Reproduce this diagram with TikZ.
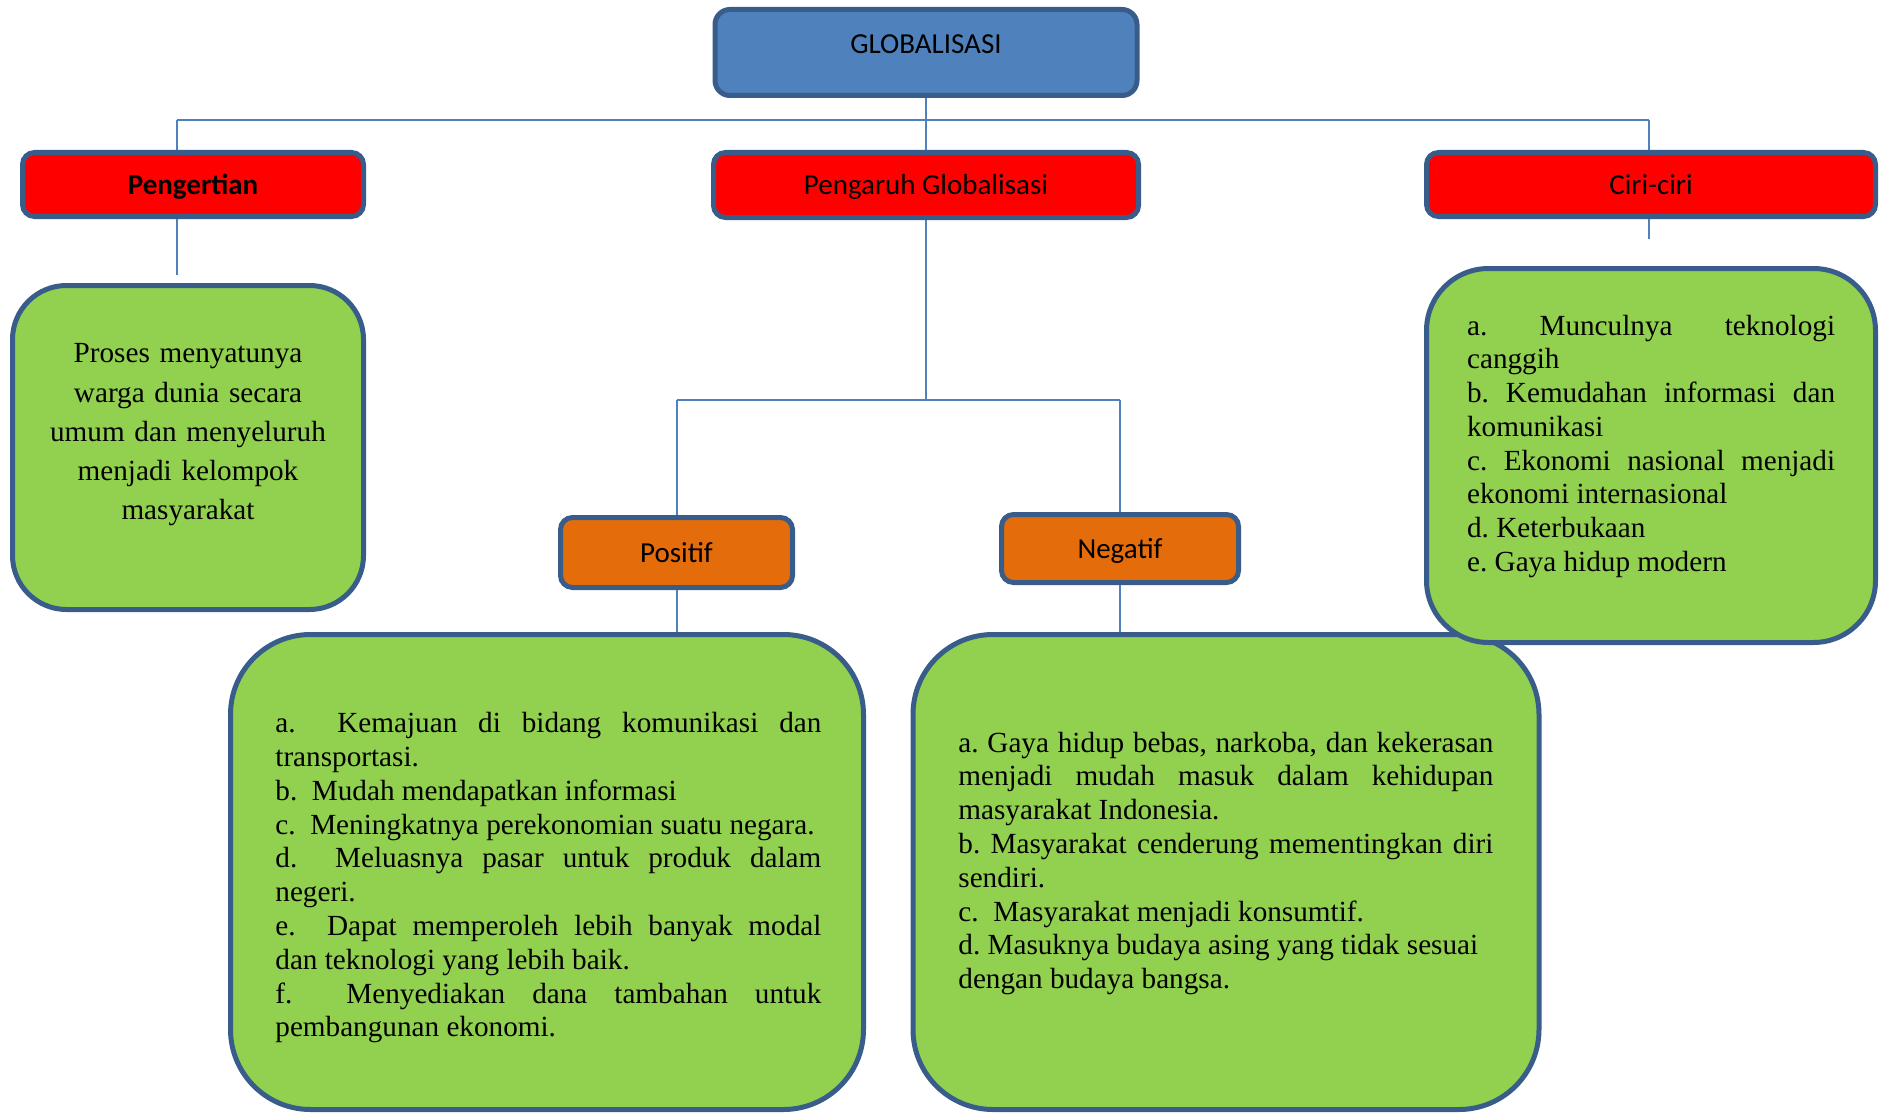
\documentclass[tikz,border=0pt]{standalone}
\usepackage{fontspec}
\setmainfont{Liberation Serif}
\newfontfamily\calibri{Carlito}
\usetikzlibrary{positioning}
\definecolor{globblue}{RGB}{79,129,189}
\definecolor{edgeblue}{RGB}{56,93,138}
\definecolor{headred}{RGB}{255,0,0}
\definecolor{suborange}{RGB}{228,108,10}
\definecolor{notegreen}{RGB}{146,208,80}
\frenchspacing
\tikzset{
  % Kotak judul
  headbox/.style   = {draw=edgeblue, line width=2.5pt, rounded corners=6pt, inner sep=0pt,
                      text height=11.5pt, text depth=2pt, font=\calibri\fontsize{14.5}{17}\selectfont},
  rootbox/.style   = {headbox, fill=globblue, rounded corners=7.5pt},
  redbox/.style    = {headbox, fill=headred},
  orangebox/.style = {headbox, fill=suborange},
  % Kotak isi
  notebox/.style   = {draw=edgeblue, line width=2.5pt, fill=notegreen, inner sep=0pt},
  notetext/.style  = {inner sep=0pt, align=justify, font=\fontsize{14.6}{16.9}\selectfont},
  % Garis penghubung
  link/.style      = {draw=globblue, line width=1pt},
}
\begin{document}
\begin{tikzpicture}[x=0.5pt, y=-0.5pt]
  \useasboundingbox (0,0) rectangle (1886,1113);
  % Judul
  \node[rootbox, minimum width=211pt, minimum height=43pt,
        text height=22.25pt, text depth=20.75pt] (glob) at (926,52.5) {GLOBALISASI};
  \node[redbox, minimum width=170.5pt, minimum height=32pt] (pengertian) at (193,184.5) {\bfseries Pengertian};
  \node[redbox, minimum width=212.5pt, minimum height=32.5pt] (pengaruh) at (926,185) {Pengaruh Globalisasi};
  \node[redbox, minimum width=224.5pt, minimum height=32pt] (ciri) at (1651,184.5) {Ciri-ciri};
  \node[orangebox, minimum width=116pt, minimum height=35pt] (positif) at (676.5,552.5) {Positif};
  \node[orangebox, minimum width=118.5pt, minimum height=34pt] (negatif) at (1120,548.5) {Negatif};
  % Kotak hijau
  \node[notebox, minimum width=175.5pt, minimum height=162pt, rounded corners=27pt] (defnote) at (188,447.5) {};
  \node[notebox, minimum width=316.5pt, minimum height=237.5pt, rounded corners=40pt] (posnote) at (547,872) {};
  \node[notebox, minimum width=313pt, minimum height=237.5pt, rounded corners=40pt] (negnote) at (1226,872) {};
  \node[notebox, minimum width=224.5pt, minimum height=187pt, rounded corners=31pt] (cirinote) at (1651,455.5) {};
  % Isi teks
  \node[notetext, align=center, text width=165pt, anchor=base,
        font=\fontsize{14.6}{19.65}\selectfont] (deftext) at (188,362.7)
    {Proses menyatunya\\warga dunia secara\\umum dan menyeluruh\\menjadi kelompok\\masyarakat};
  \node[notetext, text width=273pt, anchor=base west] (postext) at (275,732.6) {%
    a.\ \ Kemajuan di bidang komunikasi dan\linebreak transportasi.\par
    b.\ \ Mudah mendapatkan informasi\par
    c.\ \ Meningkatnya perekonomian suatu negara.\par
    d.\ \ Meluasnya pasar untuk produk dalam\linebreak negeri.\par
    e.\ \ Dapat memperoleh lebih banyak modal\linebreak dan teknologi yang lebih baik.\par
    f.\ \ Menyediakan dana tambahan untuk\linebreak pembangunan ekonomi.};
  \node[notetext, text width=267.5pt, anchor=base west] (negtext) at (958,752) {%
    a. Gaya hidup bebas, narkoba, dan kekerasan\linebreak menjadi mudah masuk dalam kehidupan\linebreak masyarakat Indonesia.\par
    b. Masyarakat cenderung mementingkan diri\linebreak sendiri.\par
    c.\ \ Masyarakat menjadi konsumtif.\par
    d. Masuknya budaya asing yang tidak sesuai\newline dengan budaya bangsa.};
  \node[notetext, text width=184pt, anchor=base west] (ciritext) at (1466.7,335) {%
    a. Munculnya teknologi\linebreak canggih\par
    b. Kemudahan informasi dan\linebreak komunikasi\par
    c. Ekonomi nasional menjadi\linebreak ekonomi internasional\par
    d. Keterbukaan\par
    e. Gaya hidup modern};
  % Garis penghubung
  \coordinate (barL) at (177,120);
  \coordinate (barR) at (1649,120);
  \coordinate (split) at (926,400);
  \coordinate (splitL) at (positif.north |- split);
  \coordinate (splitR) at (negatif.north |- split);
  \coordinate (defend) at (177,275);
  \coordinate (ciriend) at (1649,239);
  \draw[link] (barL) -- (barR);
  \draw[link] (glob.south) -- (pengaruh.north);
  \draw[link] (barL) -- (pengertian.north -| barL);
  \draw[link] (pengertian.south -| barL) -- (defend);
  \draw[link] (barR) -- (ciri.north -| barR);
  \draw[link] (ciri.south -| barR) -- (ciriend);
  \draw[link] (pengaruh.south) -- (split);
  \draw[link] (splitL) -- (splitR);
  \draw[link] (splitL) -- (positif.north);
  \draw[link] (splitR) -- (negatif.north);
  \draw[link] (positif.south) -- (positif.south |- posnote.north);
  \draw[link] (negatif.south) -- (negatif.south |- negnote.north);
\end{tikzpicture}
\end{document}
